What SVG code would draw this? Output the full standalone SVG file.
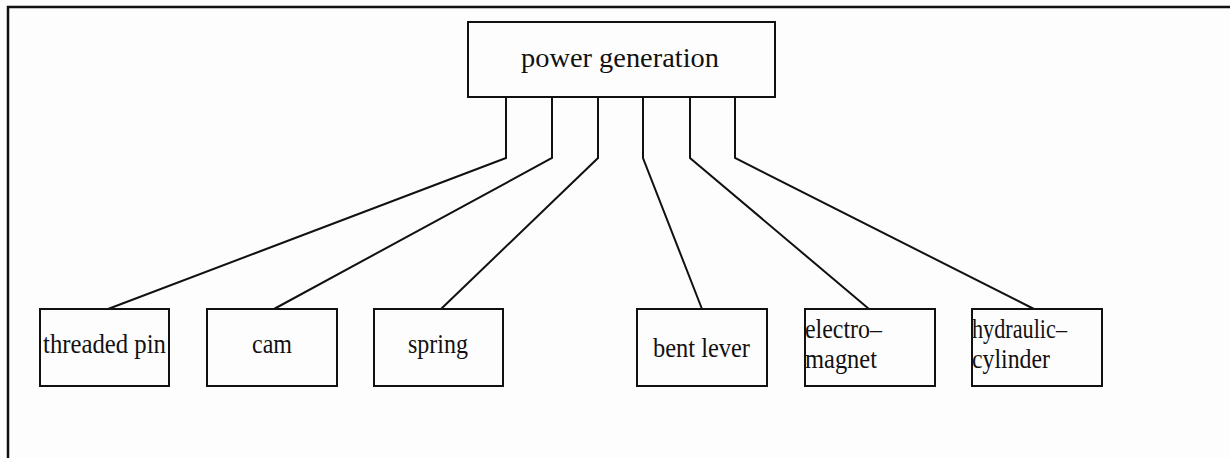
<svg xmlns="http://www.w3.org/2000/svg" width="1230" height="458" viewBox="0 0 1230 458">
<style>
.box{fill:none;stroke:#111;stroke-width:2}
.conn{fill:none;stroke:#111;stroke-width:2}
.lbl{font-family:"Liberation Serif","DejaVu Serif",serif;font-size:27px;fill:#111}
.frame{fill:none;stroke:#111;stroke-width:2.5}
</style>
<rect width="1230" height="458" fill="#fdfdfd"/>
<path class="frame" d="M8,458 V7 H1230"/>
<g id="connectors">
<polyline class="conn" points="506,97 506,158 108,309"/>
<polyline class="conn" points="552,97 552,158 274,309"/>
<polyline class="conn" points="598,97 598,158 441,309"/>
<polyline class="conn" points="643,97 643,158 702,309"/>
<polyline class="conn" points="690,97 690,158 869,309"/>
<polyline class="conn" points="735,97 735,158 1034,309"/>
</g>
<g id="power-generation">
<rect class="box" x="468" y="22" width="307" height="75"/>
<text class="lbl" x="521" y="67" textLength="198" lengthAdjust="spacingAndGlyphs">power generation</text>
</g>
<g id="threaded-pin">
<rect class="box" x="40" y="309" width="129" height="77"/>
<text class="lbl" x="43" y="353" textLength="123" lengthAdjust="spacingAndGlyphs">threaded pin</text>
</g>
<g id="cam">
<rect class="box" x="207" y="309" width="130" height="77"/>
<text class="lbl" x="252" y="353" textLength="40" lengthAdjust="spacingAndGlyphs">cam</text>
</g>
<g id="spring">
<rect class="box" x="374" y="309" width="129" height="77"/>
<text class="lbl" x="408" y="353" textLength="60" lengthAdjust="spacingAndGlyphs">spring</text>
</g>
<g id="bent-lever">
<rect class="box" x="637" y="309" width="130" height="77"/>
<text class="lbl" x="653" y="357" textLength="97" lengthAdjust="spacingAndGlyphs">bent lever</text>
</g>
<g id="electro-magnet">
<rect class="box" x="805" y="309" width="130" height="77"/>
<text class="lbl" x="805" y="338" textLength="77" lengthAdjust="spacingAndGlyphs">electro–</text>
<text class="lbl" x="805" y="368" textLength="72" lengthAdjust="spacingAndGlyphs">magnet</text>
</g>
<g id="hydraulic-cylinder">
<rect class="box" x="972" y="309" width="130" height="77"/>
<text class="lbl" x="972" y="338" textLength="95" lengthAdjust="spacingAndGlyphs">hydraulic–</text>
<text class="lbl" x="972" y="368" textLength="78" lengthAdjust="spacingAndGlyphs">cylinder</text>
</g>
</svg>
